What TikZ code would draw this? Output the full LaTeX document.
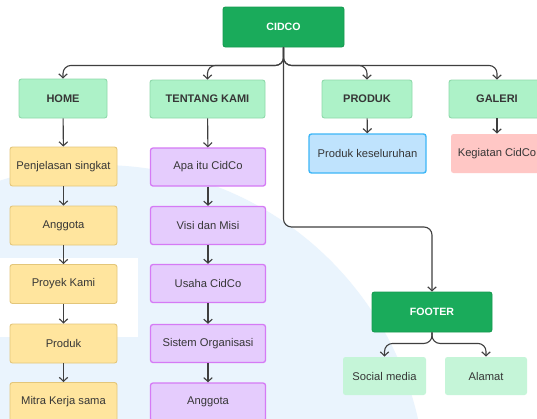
\documentclass[tikz,border=0pt]{standalone}
\usepackage{fontspec}
\setmainfont{Liberation Sans}
\usetikzlibrary{arrows.meta}
\definecolor{bgblue}{HTML}{EAF4FD}
\definecolor{dkgreen}{HTML}{1AAB5B}
\definecolor{dkgreenb}{HTML}{179A50}
\definecolor{ltgreen}{HTML}{ADF2C8}
\definecolor{ltgreenb}{HTML}{8ED9AA}
\definecolor{pgreen}{HTML}{C5F5D8}
\definecolor{yfill}{HTML}{FFE59E}
\definecolor{yborder}{HTML}{E3C67A}
\definecolor{pfill}{HTML}{E5CCFD}
\definecolor{pborder}{HTML}{D57AF5}
\definecolor{bfill}{HTML}{BFE3FD}
\definecolor{bborder}{HTML}{3DB6F7}
\definecolor{pink}{HTML}{FFC7C5}
\definecolor{linec}{HTML}{3F3F3F}
\definecolor{txt}{HTML}{363636}
\begin{document}
\begin{tikzpicture}[x=1pt,y=-1pt,
  base/.style={rounded corners=2.5pt, inner sep=0pt, text=txt, font=\fontsize{11.2}{13}\selectfont, line width=0.9pt},
  top/.style={base, fill=dkgreen, draw=dkgreenb, text=white, font=\fontsize{10.6}{12}\selectfont\bfseries},
  head/.style={base, fill=ltgreen, draw=ltgreenb, font=\fontsize{11}{13}\selectfont\bfseries},
  ybox/.style={base, fill=yfill, draw=yborder, minimum width=107pt, minimum height=39pt},
  pbox/.style={base, fill=pfill, draw=pborder, line width=1.3pt, minimum width=115pt, minimum height=38pt},
  gbox/.style={base, fill=pgreen, minimum height=38pt},
  conn/.style={draw=linec, line width=1.1pt, rounded corners=8pt, -{Straight Barb[length=4pt,width=8.5pt,line width=1.1pt]}},
  flow/.style={draw=linec, line width=1.1pt, -{Straight Barb[length=4pt,width=8.5pt,line width=1.1pt]}}
]
\useasboundingbox (0,0) rectangle (537,418);
\clip (0,0) rectangle (537,418);
\fill[white] (0,0) rectangle (537,418);
\fill[bgblue] (100,491) circle (326);
\fill[white] (0,258) rectangle (138,337);

\node[top, minimum width=121pt, minimum height=40pt] (cidco) at (283.5,27) {CIDCO};
\node[head, minimum width=88pt, minimum height=39pt] (home) at (63,98.5) {HOME};
\node[head, minimum width=115pt, minimum height=38pt] (tentang) at (207.5,99) {TENTANG KAMI};
\node[head, minimum width=90pt, minimum height=38pt] (produk) at (367,99) {PRODUK};
\node[head, minimum width=96pt, minimum height=38pt] (galeri) at (497,99) {GALERI};
\node[base, fill=bfill, draw=bborder, line width=1.4pt, minimum width=117pt, minimum height=39pt] (prodkes) at (367.5,153.5) {Produk keseluruhan};
\node[base, fill=pink, minimum width=92pt, minimum height=39pt] (kegiatan) at (497,153.5) {Kegiatan CidCo};

\node[ybox] (y1) at (63.5,166.5) {Penjelasan singkat};
\node[ybox] (y2) at (63.5,225.5) {Anggota};
\node[ybox] (y3) at (63.5,284) {Proyek Kami};
\node[ybox] (y4) at (63.5,343.5) {Produk};
\node[ybox] (y5) at (63.5,402) {Mitra Kerja sama};

\node[pbox] (p1) at (208,167) {Apa itu CidCo};
\node[pbox] (p2) at (208,225.5) {Visi dan Misi};
\node[pbox] (p3) at (208,283.5) {Usaha CidCo};
\node[pbox] (p4) at (208,343.5) {Sistem Organisasi};
\node[pbox] (p5) at (208,402) {Anggota};

\node[top, minimum width=120pt, minimum height=40pt] (footer) at (432,312) {FOOTER};
\node[gbox, minimum width=83pt] (social) at (384.5,376) {Social media};
\node[gbox, minimum width=82pt] (alamat) at (486,376) {Alamat};

\coordinate (fk) at (283.5,227);
\draw[conn] (cidco.south) -- ++(0,18) -| (home.north);
\draw[conn] (cidco.south) -- ++(0,18) -| (tentang.north);
\draw[conn] (cidco.south) -- ++(0,18) -| (produk.north);
\draw[conn] (cidco.south) -- ++(0,18) -| (galeri.north);
\draw[conn] (cidco.south) -- (cidco.south |- fk) -| (footer.north);
\draw[conn] (footer.south) -- ++(0,11) -| (social.north);
\draw[conn] (footer.south) -- ++(0,11) -| (alamat.north);

\draw[flow] (home) -- (y1);
\draw[flow] (y1) -- (y2);
\draw[flow] (y2) -- (y3);
\draw[flow] (y3) -- (y4);
\draw[flow] (y4) -- (y5);
\draw[flow] (tentang) -- (p1);
\draw[flow] (p1) -- (p2);
\draw[flow] (p2) -- (p3);
\draw[flow] (p3) -- (p4);
\draw[flow] (p4) -- (p5);
\draw[flow] (produk) -- (prodkes);
\draw[flow] (galeri) -- (kegiatan);
\end{tikzpicture}
\end{document}
